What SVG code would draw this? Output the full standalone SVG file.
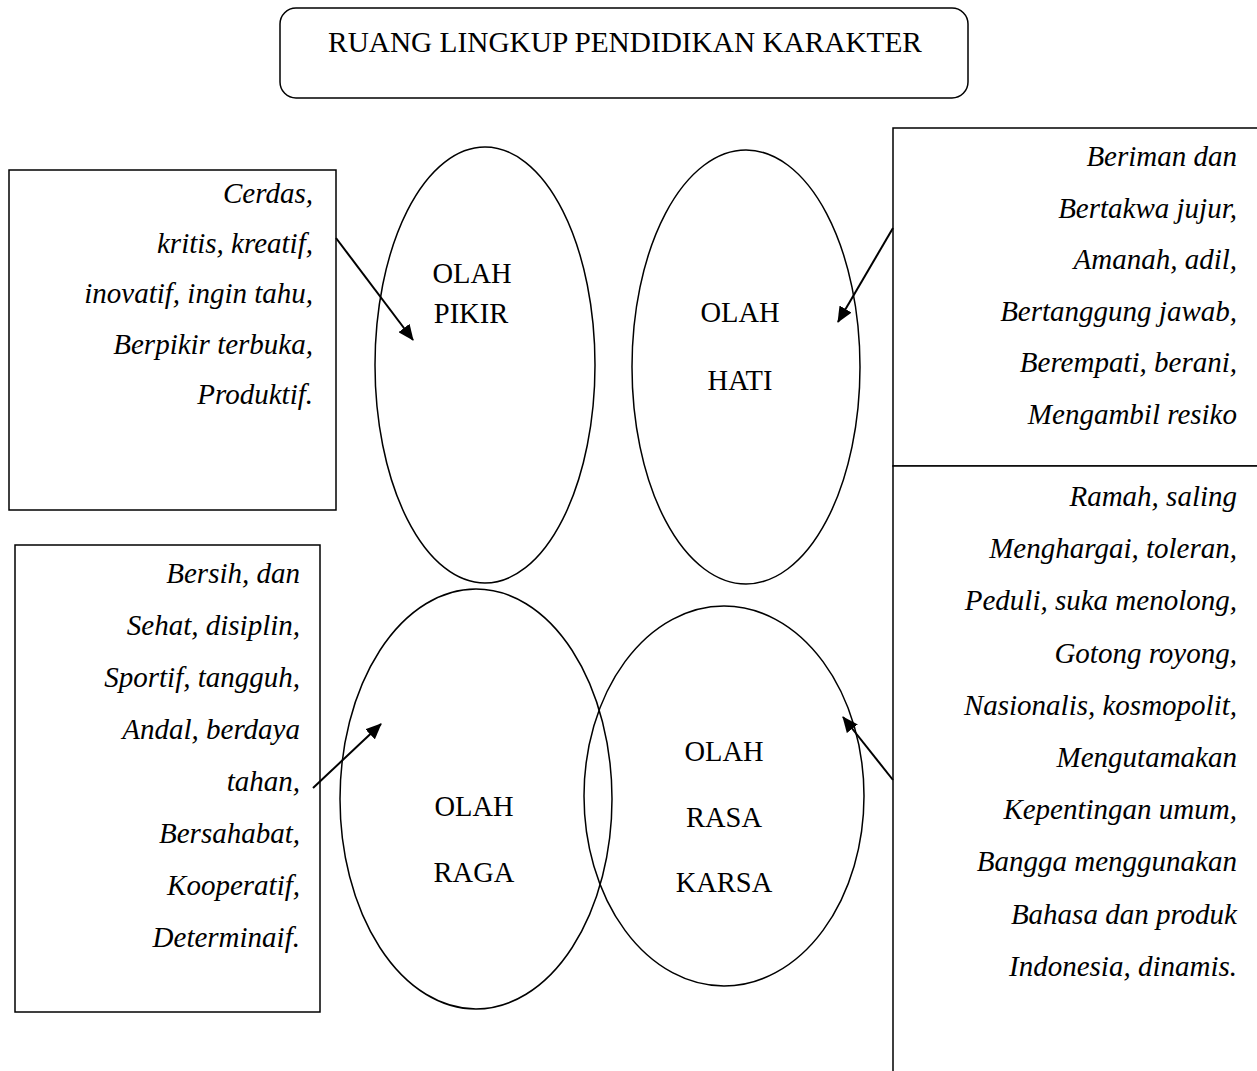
<svg xmlns="http://www.w3.org/2000/svg" width="1257" height="1071" viewBox="0 0 1257 1071">
<defs>
<marker id="ah" viewBox="0 0 16 14" refX="15" refY="7" markerWidth="16" markerHeight="14" markerUnits="userSpaceOnUse" orient="auto"><path d="M0,0 L16,7 L0,14 z" fill="#000"/></marker>
<style>
.sh{fill:#fff;stroke:#000;stroke-width:1.5}
.el{fill:none;stroke:#000;stroke-width:1.5}
.it{font-family:"Liberation Serif","Times New Roman",serif;font-style:italic;font-size:29px;fill:#000;text-anchor:end}
.lb{font-family:"Liberation Serif","Times New Roman",serif;font-size:28.5px;fill:#000;text-anchor:middle}
.tt{font-family:"Liberation Serif","Times New Roman",serif;font-size:29.3px;fill:#000;text-anchor:middle}
.cn{stroke:#000;stroke-width:2;fill:none}
</style>
</defs>
<rect width="1257" height="1071" fill="#fff"/>
<g id="title">
<rect class="sh" x="280" y="8" width="688" height="90" rx="16"/>
<text class="tt" x="625" y="52">RUANG LINGKUP PENDIDIKAN KARAKTER</text>
</g>
<g id="box-pikir">
<rect class="sh" x="9" y="170" width="327" height="340"/>
<text class="it" x="313" y="203">Cerdas,</text>
<text class="it" x="313" y="253">kritis, kreatif,</text>
<text class="it" x="313" y="303">inovatif, ingin tahu,</text>
<text class="it" x="313" y="354">Berpikir terbuka,</text>
<text class="it" x="313" y="404">Produktif.</text>
</g>
<g id="box-hati">
<rect class="sh" x="893" y="128" width="400" height="338"/>
<text class="it" x="1237" y="166">Beriman dan</text>
<text class="it" x="1237" y="218">Bertakwa jujur,</text>
<text class="it" x="1237" y="269">Amanah, adil,</text>
<text class="it" x="1237" y="321">Bertanggung jawab,</text>
<text class="it" x="1237" y="372">Berempati, berani,</text>
<text class="it" x="1237" y="424">Mengambil resiko</text>
</g>
<g id="box-rasa">
<rect class="sh" x="893" y="466" width="400" height="640"/>
<text class="it" x="1237" y="506">Ramah, saling</text>
<text class="it" x="1237" y="558">Menghargai, toleran,</text>
<text class="it" x="1237" y="610">Peduli, suka menolong,</text>
<text class="it" x="1237" y="663">Gotong royong,</text>
<text class="it" x="1237" y="715">Nasionalis, kosmopolit,</text>
<text class="it" x="1237" y="767">Mengutamakan</text>
<text class="it" x="1237" y="819">Kepentingan umum,</text>
<text class="it" x="1237" y="871">Bangga menggunakan</text>
<text class="it" x="1237" y="924">Bahasa dan produk</text>
<text class="it" x="1237" y="976">Indonesia, dinamis.</text>
</g>
<g id="box-raga">
<rect class="sh" x="15" y="545" width="305" height="467"/>
<text class="it" x="300" y="583">Bersih, dan</text>
<text class="it" x="300" y="635">Sehat, disiplin,</text>
<text class="it" x="300" y="687">Sportif, tangguh,</text>
<text class="it" x="300" y="739">Andal, berdaya</text>
<text class="it" x="300" y="791">tahan,</text>
<text class="it" x="300" y="843">Bersahabat,</text>
<text class="it" x="300" y="895">Kooperatif,</text>
<text class="it" x="300" y="947">Determinaif.</text>
</g>
<g id="olah-pikir">
<ellipse class="el" cx="485" cy="365" rx="110" ry="218"/>
<text class="lb" x="472" y="283">OLAH</text>
<text class="lb" x="471" y="323">PIKIR</text>
</g>
<g id="olah-hati">
<ellipse class="el" cx="746" cy="367" rx="114" ry="217"/>
<text class="lb" x="740" y="322">OLAH</text>
<text class="lb" x="740" y="390">HATI</text>
</g>
<g id="olah-raga">
<ellipse class="el" cx="476" cy="799" rx="136" ry="210"/>
<text class="lb" x="474" y="816">OLAH</text>
<text class="lb" x="474" y="882">RAGA</text>
</g>
<g id="olah-rasa">
<ellipse class="el" cx="724" cy="796" rx="140" ry="190"/>
<text class="lb" x="724" y="761">OLAH</text>
<text class="lb" x="724" y="827">RASA</text>
<text class="lb" x="724" y="892">KARSA</text>
</g>
<g id="connectors">
<line class="cn" x1="336" y1="238" x2="413" y2="340" marker-end="url(#ah)"/>
<line class="cn" x1="893" y1="228" x2="838" y2="322" marker-end="url(#ah)"/>
<line class="cn" x1="313" y1="788" x2="381" y2="724" marker-end="url(#ah)"/>
<line class="cn" x1="893" y1="780" x2="843" y2="717" marker-end="url(#ah)"/>
</g>
</svg>
